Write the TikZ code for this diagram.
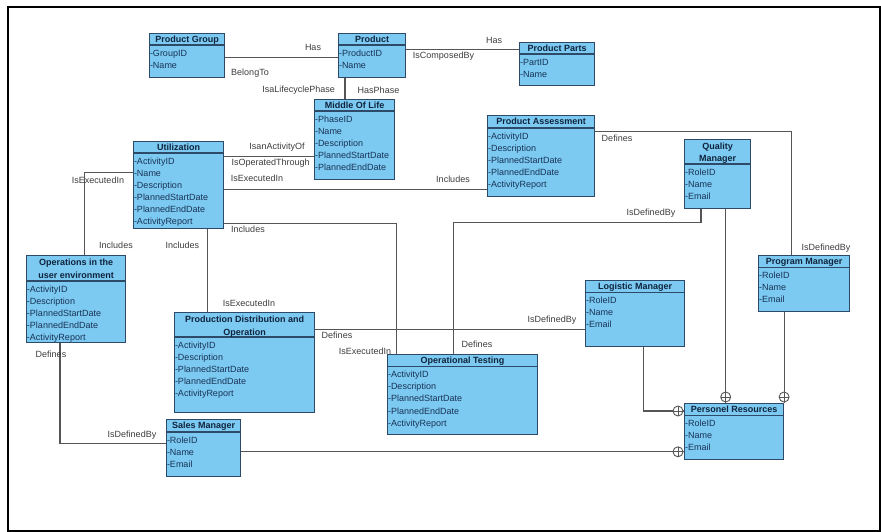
\documentclass[tikz,border=0pt]{standalone}
\usepackage{fontspec}
\setmainfont{Liberation Sans}
\usetikzlibrary{calc}
\definecolor{entfill}{RGB}{124,202,242}
\definecolor{entborder}{RGB}{45,75,105}
\definecolor{enttext}{RGB}{15,35,60}
\definecolor{rowtext}{RGB}{25,50,85}
\definecolor{linegray}{RGB}{85,85,85}
\definecolor{lbltext}{RGB}{60,60,60}
\tikzset{
  entbox/.style={draw=entborder, fill=entfill, line width=1.1pt, inner sep=0pt},
  entsep/.style={draw=entborder, line width=1.1pt},
  enttitle/.style={font=\fontsize{9}{11}\selectfont\bfseries, text=enttext, inner sep=0pt, text height=6.6pt, text depth=0pt},
  entrow/.style={font=\fontsize{9}{11}\selectfont, text=rowtext, anchor=west, inner sep=0pt, text height=6.4pt, text depth=0pt},
  conn/.style={draw=linegray, line width=1.1pt},
  lbl/.style={font=\fontsize{9}{11}\selectfont, text=lbltext, inner sep=0pt, text height=6.4pt, text depth=0pt},
  oplus/.style={circle, draw=linegray, fill=white, line width=0.9pt, minimum size=10pt, inner sep=0pt,
    path picture={\draw[linegray, line width=0.9pt] (path picture bounding box.north) -- (path picture bounding box.south) (path picture bounding box.west) -- (path picture bounding box.east);}},
  frame/.style={draw=black, line width=2pt}
}
\newcommand{\ent}[8]{%
  \node[entbox, minimum width=#4pt, minimum height=#5pt, anchor=north west] (#1) at (#2,#3) {};
  \draw[entsep] ($(#1.north west)+(0,#6)$) -- ($(#1.north east)+(0,#6)$);
  \foreach \t [count=\j] in {#7} {
    \node[enttitle] (#1-t\j) at ($(#1.north)+({0},{min(#6/2,7)+12.7*(\j-1)})$) {\t};
  }
  \foreach \r [count=\i] in {#8} {
    \node[entrow] (#1-r\i) at ($(#1.north west)+(0.8,#6+8+12.1*\i-12.1)$) {-\r};
  }
}
\begin{document}
\begin{tikzpicture}[x=1pt,y=-1pt]
\useasboundingbox (0,0) rectangle (881,532);
\draw[frame] (8.3,7) rectangle (880,531);

% entities
\ent{pg}{149}{33}{75}{44}{12}{Product Group}{GroupID,Name}
\ent{prod}{338}{33}{67}{44}{12}{Product}{ProductID,Name}
\ent{parts}{519}{42}{75}{43}{12}{Product Parts}{PartID,Name}
\ent{mol}{314}{99}{80}{80}{12}{Middle Of Life}{PhaseID,Name,Description,PlannedStartDate,PlannedEndDate}
\ent{util}{133}{141}{90}{87}{12}{Utilization}{ActivityID,Name,Description,PlannedStartDate,PlannedEndDate,ActivityReport}
\ent{pa}{487}{115}{107}{81}{13}{Product Assessment}{ActivityID,Description,PlannedStartDate,PlannedEndDate,ActivityReport}
\ent{qm}{684}{139}{66}{69}{25}{Quality,Manager}{RoleID,Name,Email}
\ent{pm}{758}{255}{91}{56}{12.5}{Program Manager}{RoleID,Name,Email}
\ent{lm}{585}{280}{99}{66}{12.3}{Logistic Manager}{RoleID,Name,Email}
\ent{ot}{387}{354}{150}{80}{12.5}{Operational Testing}{ActivityID,Description,PlannedStartDate,PlannedEndDate,ActivityReport}
\ent{oue}{26}{255}{99}{87}{26}{Operations in the,user environment}{ActivityID,Description,PlannedStartDate,PlannedEndDate,ActivityReport}
\ent{pdo}{174}{312}{140}{100}{25}{Production Distribution and,Operation}{ActivityID,Description,PlannedStartDate,PlannedEndDate,ActivityReport}
\ent{sm}{166}{419}{74}{57}{13}{Sales Manager}{RoleID,Name,Email}
\ent{pr}{684}{403}{99}{56}{12.5}{Personel Resources}{RoleID,Name,Email}

% connectors
\draw[conn] (pg.east |- 0,57.7) -- (prod.west |- 0,57.7);
\draw[conn] (prod.east |- 0,49.3) -- (parts.west |- 0,49.3);
\draw[conn] (prod.south -| 345,0) -- (mol.north -| 345,0);
\draw[conn] (util.east |- 0,156.7) -- (mol.west |- 0,156.7);
\draw[conn] (util.east |- 0,189.3) -- (pa.west |- 0,189.3);
\draw[conn] (util.east |- 0,223.3) -| (ot.north -| 396.7,0);
\draw[conn] (util.south -| 207.3,0) -- (pdo.north -| 207.3,0);
\draw[conn] (util.west |- 0,172.3) -| (oue.north -| 84.3,0);
\draw[conn] (oue.south -| 60,0) |- (sm.west |- 0,443.5);
\draw[conn] (sm.east |- 0,451.8) -- (pr.west |- 0,451.8);
\draw[conn] (pdo.east |- 0,329.3) -- (lm.west |- 0,329.3);
\coordinate (qmbend) at (453.3,222.3);
\draw[conn] (qm.south -| 701,0) |- (qmbend) -- (ot.north -| qmbend);
\draw[conn] (pa.east |- 0,131.7) -| (pm.north -| 791.7,0);
\draw[conn] (qm.south -| 725.7,0) -- (pr.north -| 725.7,0);
\draw[conn] (pm.south -| pr.north east) -- (pr.north east);
\draw[conn] (lm.south -| 643.3,0) |- (pr.west |- 0,411);

% circle-plus ends
\node[oplus] (c1) at ($(pr.west |- 0,451.8)+(-6,0)$) {};
\node[oplus] (c2) at ($(pr.west |- 0,411)+(-6,0)$) {};
\node[oplus] (c3) at ($(pr.north -| 725.7,0)+(0,-6)$) {};
\node[oplus] (c4) at ($(pr.north east)+(0,-6)$) {};

% labels
\node[lbl] (l1) at (313,47.7) {Has};
\node[lbl] (l2) at (250,72) {BelongTo};
\node[lbl] (l3) at (494,40.7) {Has};
\node[lbl] (l4) at (443.5,55) {IsComposedBy};
\node[lbl] (l5) at (298.7,89) {IsaLifecyclePhase};
\node[lbl] (l6) at (378.5,90.7) {HasPhase};
\node[lbl] (l7) at (277,146.7) {IsanActivityOf};
\node[lbl] (l8) at (270.7,162.7) {IsOperatedThrough};
\node[lbl] (l9) at (257,178.8) {IsExecutedIn};
\node[lbl] (l10) at (453,179.3) {Includes};
\node[lbl] (l11) at (248,229) {Includes};
\node[lbl] (l12) at (365,351.7) {IsExecutedIn};
\node[lbl] (l13) at (182.3,245.5) {Includes};
\node[lbl] (l14) at (249,303) {IsExecutedIn};
\node[lbl] (l15) at (98,180) {IsExecutedIn};
\node[lbl] (l16) at (116,245.5) {Includes};
\node[lbl] (l17) at (51,354.3) {Defines};
\node[lbl] (l18) at (132,434) {IsDefinedBy};
\node[lbl] (l19) at (337,335.7) {Defines};
\node[lbl] (l20) at (552,319.3) {IsDefinedBy};
\node[lbl] (l21) at (477,344) {Defines};
\node[lbl] (l22) at (651,212.3) {IsDefinedBy};
\node[lbl] (l23) at (617,138.3) {Defines};
\node[lbl] (l24) at (826,247.7) {IsDefinedBy};
\end{tikzpicture}
\end{document}
